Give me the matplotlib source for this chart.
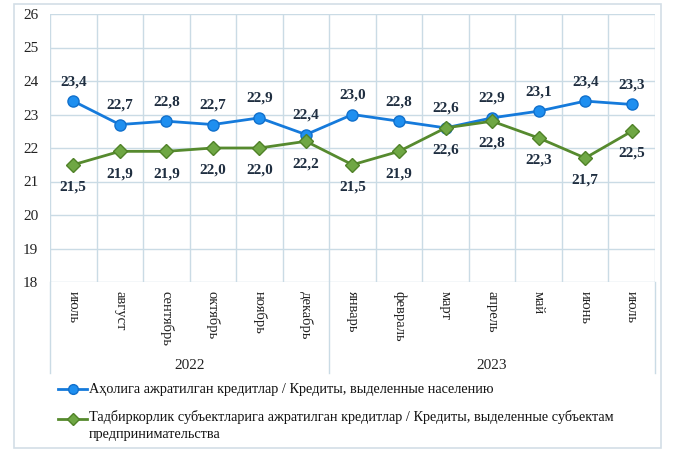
import matplotlib
matplotlib.use("Agg")
import matplotlib.pyplot as plt
from matplotlib.lines import Line2D
from matplotlib.patches import Rectangle

months = ["июль", "август", "сентябрь", "октябрь", "ноябрь", "декабрь",
          "январь", "февраль", "март", "апрель", "май", "июнь", "июль"]
years = ["2022", "2023"]
year_counts = [6, 7]
population = [23.4, 22.7, 22.8, 22.7, 22.9, 22.4, 23.0, 22.8, 22.6, 22.9, 23.1, 23.4, 23.3]
business = [21.5, 21.9, 21.9, 22.0, 22.0, 22.2, 21.5, 21.9, 22.6, 22.8, 22.3, 21.7, 22.5]
label_pop = "Аҳолига ажратилган кредитлар / Кредиты, выделенные населению"
label_bus = ("Тадбиркорлик субъектларига ажратилган кредитлар / Кредиты, выделенные субъектам\n"
             "предпринимательства")

plt.rcParams['font.family'] = ['Liberation Serif', 'DejaVu Serif']

W, H = 680, 453
fig = plt.figure(figsize=(W / 100, H / 100), dpi=100)

BLUE_L, BLUE_M, BLUE_E = "#157ADB", "#1E8FF0", "#1170CC"
GREEN_L, GREEN_M, GREEN_E = "#568A2E", "#6FA744", "#508228"

# outer frame
fig.add_artist(Rectangle((14 / W, 1 - 448 / H), (661 - 14) / W, (448 - 4) / H,
                         transform=fig.transFigure, fill=False, edgecolor="#D3DEE6", lw=1.2))

ax = fig.add_axes([50 / W, 1 - 282 / H, (655 - 50) / W, (282 - 14) / H])
n = len(months)
x = list(range(n))
ax.set_xlim(-0.5, n - 0.5)
ax.set_ylim(18, 26)
ax.set_yticks(range(18, 27))
ax.tick_params(axis='y', length=0, pad=8.5, labelsize=11, colors="#222222")
ax.set_xticks([])
for s in ax.spines.values():
    s.set_visible(False)

grid_c = "#CADBE5"
for yv in range(18, 27):
    ax.axhline(yv, color=grid_c, lw=1.0, zorder=0)
for b in range(n + 1):
    ax.axvline(b - 0.5, color=grid_c, lw=1.0, zorder=0)

ax.plot(x, population, color=BLUE_L, lw=2.0, marker='o', markersize=8,
        markerfacecolor=BLUE_M, markeredgecolor=BLUE_E, markeredgewidth=1, zorder=3)
ax.plot(x, business, color=GREEN_L, lw=2.0, marker='D', markersize=7,
        markerfacecolor=GREEN_M, markeredgecolor=GREEN_E, markeredgewidth=1, zorder=4)

lab_c = "#1F2E40"
for xi, v in zip(x, population):
    ax.annotate(f"{v:.1f}".replace('.', ','), (xi, v), xytext=(0, 14), textcoords='offset points',
                ha='center', va='center', fontsize=11, fontweight='bold', color=lab_c)
for xi, v in zip(x, business):
    ax.annotate(f"{v:.1f}".replace('.', ','), (xi, v), xytext=(0, -16), textcoords='offset points',
                ha='center', va='center', fontsize=11, fontweight='bold', color=lab_c)

# month labels (rotated) and year grouping
trans = ax.get_xaxis_transform()
for xi, m in zip(x, months):
    ax.text(xi, -0.035, m, rotation=270, ha='center', va='top', fontsize=10.5,
            color="#222222", transform=trans)
start = 0
seps = [0]
for yr, c in zip(years, year_counts):
    ax.text(start + (c - 1) / 2, -0.31, yr, ha='center', va='center', fontsize=11,
            color="#222222", transform=trans)
    start += c
    seps.append(start)
for s in seps:
    ax.add_line(Line2D([s - 0.5, s - 0.5], [0, -0.34], transform=trans, color=grid_c,
                       lw=1.0, clip_on=False))

# legend
def legend_key(ypix, color, mface, medge, mark, ms):
    fy = 1 - ypix / H
    fig.add_artist(Line2D([58 / W, 87 / W], [fy, fy], transform=fig.transFigure,
                          color=color, lw=2.0))
    fig.add_artist(Line2D([73 / W], [fy], transform=fig.transFigure, color=color,
                          marker=mark, markersize=ms, markerfacecolor=mface,
                          markeredgecolor=medge, linestyle='none'))

legend_key(389, BLUE_L, BLUE_M, BLUE_E, 'o', 7)
fig.text(89 / W, 1 - 389 / H, label_pop, ha='left', va='center', fontsize=10.3, color="#111111")
legend_key(419, GREEN_L, GREEN_M, GREEN_E, 'D', 6)
fig.text(89 / W, 1 - 410 / H, label_bus, ha='left', va='top', fontsize=10.3, color="#111111",
         linespacing=1.4)

fig.savefig("out.png", dpi=100)
